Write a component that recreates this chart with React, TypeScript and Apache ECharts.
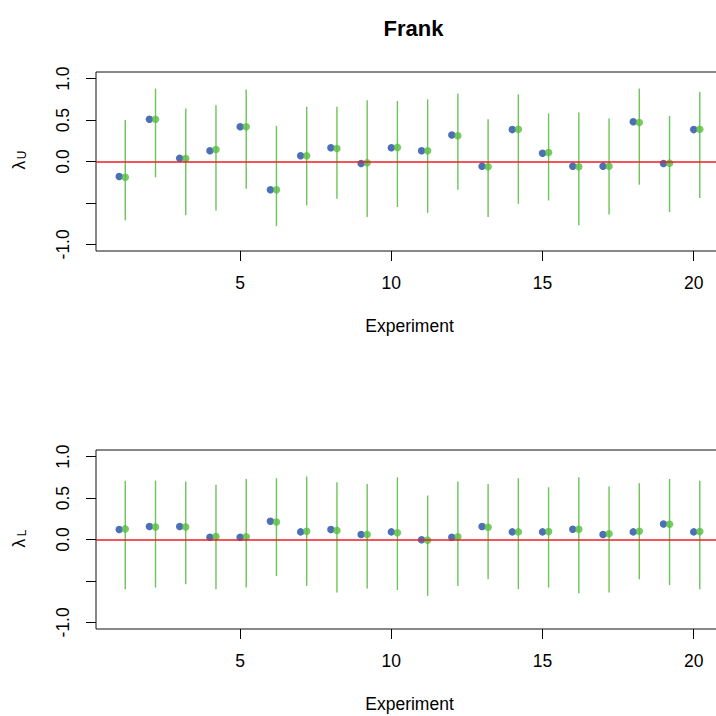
import React, { useEffect, useRef } from "react";
import * as echarts from "echarts";

const experiments = [1, 2, 3, 4, 5, 6, 7, 8, 9, 10, 11, 12, 13, 14, 15, 16, 17, 18, 19, 20];
const OFFSET = 0.2;

const upperBlue = [-0.18, 0.51, 0.04, 0.13, 0.42, -0.34, 0.07, 0.165, -0.024, 0.165, 0.13, 0.32, -0.056, 0.385, 0.1, -0.056, -0.056, 0.48, -0.024, 0.385];
const upperGreen = [-0.19, 0.51, 0.036, 0.145, 0.42, -0.34, 0.07, 0.157, -0.016, 0.17, 0.13, 0.31, -0.064, 0.39, 0.108, -0.064, -0.056, 0.47, -0.02, 0.39];
const upperLo = [-0.71, -0.19, -0.65, -0.59, -0.33, -0.78, -0.53, -0.45, -0.67, -0.55, -0.62, -0.34, -0.67, -0.51, -0.47, -0.77, -0.64, -0.28, -0.61, -0.44];
const upperHi = [0.5, 0.88, 0.64, 0.68, 0.87, 0.43, 0.66, 0.66, 0.74, 0.73, 0.75, 0.82, 0.51, 0.81, 0.58, 0.59, 0.52, 0.88, 0.55, 0.84];

const lowerBlue = [0.12, 0.156, 0.156, 0.028, 0.028, 0.22, 0.092, 0.12, 0.06, 0.092, -0.004, 0.028, 0.156, 0.092, 0.092, 0.124, 0.06, 0.092, 0.188, 0.092];
const lowerGreen = [0.128, 0.152, 0.152, 0.036, 0.032, 0.21, 0.1, 0.11, 0.06, 0.08, -0.008, 0.032, 0.148, 0.092, 0.096, 0.124, 0.068, 0.1, 0.184, 0.096];
const lowerLo = [-0.6, -0.58, -0.54, -0.6, -0.58, -0.44, -0.56, -0.64, -0.59, -0.61, -0.68, -0.56, -0.48, -0.6, -0.58, -0.65, -0.64, -0.48, -0.55, -0.6];
const lowerHi = [0.71, 0.71, 0.7, 0.66, 0.73, 0.74, 0.76, 0.69, 0.67, 0.75, 0.53, 0.7, 0.67, 0.74, 0.63, 0.75, 0.64, 0.68, 0.73, 0.71];

const xTicks = [5, 10, 15, 20];
const yTicks = [-1, -0.5, 0, 0.5, 1];
const yLabels = [-1, 0, 0.5, 1];

const FONT = "'Liberation Sans', Arial, Helvetica, sans-serif";
const FS = 17.5;
const BLUE = "#1F4BA5";
const GREEN = "#57BD40";
const BAR = "#6CC45A";
const RED = "#EE1C25";

function xAxisFor(gridIndex: number) {
  return {
    type: "value",
    gridIndex,
    min: 0.232,
    max: 20.968,
    splitLine: { show: false },
    axisLine: { show: false, onZero: false },
    axisTick: { show: true, inside: false, length: 10, customValues: xTicks, lineStyle: { color: "#000", width: 1 } },
    axisLabel: {
      show: true,
      customValues: xTicks,
      margin: 23,
      fontSize: FS,
      color: "#000",
      fontFamily: FONT,
    },
    name: "Experiment",
    nameLocation: "middle",
    nameGap: 66,
    nameTextStyle: { fontSize: FS, color: "#000", fontFamily: FONT },
  };
}

function yAxisFor(gridIndex: number) {
  return {
    type: "value",
    gridIndex,
    min: -1.08,
    max: 1.08,
    splitLine: { show: false },
    axisLine: { show: false, onZero: false },
    axisTick: { show: true, inside: false, length: 10, customValues: yTicks, lineStyle: { color: "#000", width: 1 } },
    axisLabel: {
      show: true,
      customValues: yLabels,
      rotate: 90,
      margin: 24,
      fontSize: FS,
      color: "#000",
      fontFamily: FONT,
      formatter: (v: number) => v.toFixed(1),
    },
  };
}

function seriesFor(idx: number, blue: number[], green: number[], lo: number[], hi: number[]) {
  const bars = experiments.map((x, i) => [x + OFFSET, lo[i], hi[i]]);
  return [
    {
      type: "custom",
      xAxisIndex: idx,
      yAxisIndex: idx,
      data: bars,
      encode: { x: 0, y: [1, 2] },
      z: 2,
      renderItem: (params: any, api: any) => {
        const x = api.value(0);
        const p1 = api.coord([x, api.value(1)]);
        const p2 = api.coord([x, api.value(2)]);
        return {
          type: "line",
          shape: { x1: p1[0], y1: p1[1], x2: p2[0], y2: p2[1] },
          style: { stroke: BAR, lineWidth: 1.4 },
        };
      },
    },
    {
      type: "scatter",
      xAxisIndex: idx,
      yAxisIndex: idx,
      data: experiments.map((x, i) => [x, blue[i]]),
      symbol: "circle",
      symbolSize: 7.5,
      itemStyle: { color: BLUE },
      z: 3,
    },
    {
      type: "scatter",
      xAxisIndex: idx,
      yAxisIndex: idx,
      data: experiments.map((x, i) => [x + OFFSET, green[i]]),
      symbol: "circle",
      symbolSize: 7.5,
      itemStyle: { color: GREEN },
      z: 4,
    },
    {
      type: "line",
      xAxisIndex: idx,
      yAxisIndex: idx,
      data: [],
      z: 5,
      markLine: {
        silent: true,
        symbol: ["none", "none"],
        label: { show: false },
        lineStyle: { color: RED, width: 1.5, type: "solid" },
        data: [{ yAxis: 0 }],
      },
    },
  ];
}

function yTitle(y: number, sub: string) {
  return {
    type: "group",
    x: 19,
    y,
    rotation: Math.PI / 2,
    children: [
      {
        type: "text",
        x: -4,
        y: 0,
        style: { text: "λ", fontSize: FS, fontFamily: FONT, fill: "#000", textAlign: "center", textVerticalAlign: "middle" },
      },
      {
        type: "text",
        x: 6,
        y: 3,
        style: { text: sub, fontSize: 12, fontFamily: FONT, fill: "#000", textAlign: "center", textVerticalAlign: "middle" },
      },
    ],
  };
}

export default function App() {
  const ref = useRef<HTMLDivElement>(null);
  useEffect(() => {
    if (!ref.current) return;
    const chart = echarts.init(ref.current, undefined, { renderer: "svg" });
    chart.setOption({
      animation: false,
      backgroundColor: "#fff",
      title: {
        text: "Frank",
        left: 408.5,
        top: 12,
        textAlign: "center",
        textStyle: { fontSize: 22, fontWeight: "bold", color: "#000", fontFamily: FONT },
      },
      grid: [
        { left: 96, top: 72, width: 627, height: 179, show: true, borderColor: "#111", borderWidth: 1, backgroundColor: "transparent" },
        { left: 96, top: 450, width: 627, height: 179, show: true, borderColor: "#111", borderWidth: 1, backgroundColor: "transparent" },
      ],
      xAxis: [xAxisFor(0), xAxisFor(1)],
      yAxis: [yAxisFor(0), yAxisFor(1)],
      series: [
        ...seriesFor(0, upperBlue, upperGreen, upperLo, upperHi),
        ...seriesFor(1, lowerBlue, lowerGreen, lowerLo, lowerHi),
      ],
      graphic: [yTitle(161, "U"), yTitle(539, "L")],
    });
    return () => chart.dispose();
  }, []);
  return (
    <div style={{ position: "absolute", left: 0, top: 0, width: 716, height: 716, overflow: "hidden", background: "#fff" }}>
      <div ref={ref} style={{ width: 730, height: 716 }} />
    </div>
  );
}
